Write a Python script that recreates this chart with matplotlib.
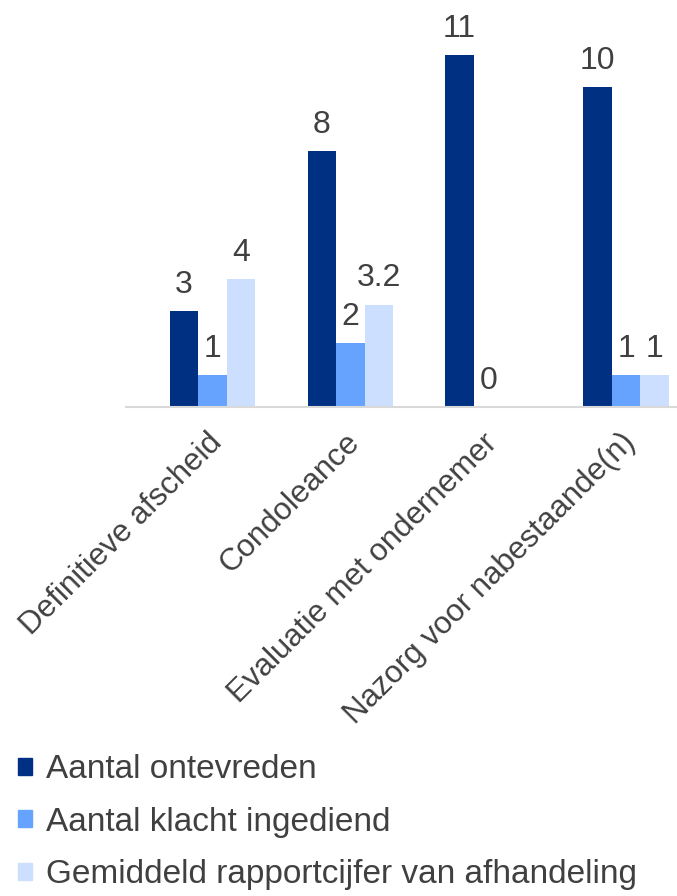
import matplotlib.pyplot as plt
import numpy as np
from matplotlib.patches import Patch
from matplotlib.transforms import ScaledTranslation

plt.rcParams['font.family'] = ['Liberation Sans', 'DejaVu Sans']

categories = ['Definitieve afscheid', 'Condoleance', 'Evaluatie met ondernemer',
              'Nazorg voor nabestaande(n)']
series_names = ['Aantal ontevreden', 'Aantal klacht ingediend',
                'Gemiddeld rapportcijfer van afhandeling']
ontevreden = [3, 8, 11, 10]
klacht = [1, 2, 0, 1]
rapportcijfer = [4, 3.2, np.nan, 1]
colors = ['#003082', '#66A3FF', '#CCDFFF']

fig = plt.figure(figsize=(6.77, 8.96), dpi=100)
# axis line runs from x=126 to 677 px
ax = fig.add_axes([126 / 677, 0.5458, 551 / 677, 0.4286])

x = np.arange(len(categories))
w = 0.207
for i, vals in enumerate([ontevreden, klacht, rapportcijfer]):
    bars = ax.bar(x + (i - 1) * w, vals, w, color=colors[i], label=series_names[i])
    labels = ['' if np.isnan(v) else '%g' % v for v in vals]
    ax.bar_label(bars, labels=labels, padding=8, fontsize=23, color='#404040')

ax.set_xlim(-0.628, 3.37)
ax.set_ylim(0, 12)
for s in ['top', 'right', 'left']:
    ax.spines[s].set_visible(False)
ax.spines['bottom'].set_color('#D9D9D9')
ax.spines['bottom'].set_linewidth(1.5)
ax.set_yticks([])
ax.set_xticks(x)
ax.set_xticklabels(categories, rotation=45, ha='right', va='top',
                   rotation_mode='anchor', fontsize=22.5, color='#404040')
ax.tick_params(axis='x', length=0, pad=15)
shift = ScaledTranslation(-6 / 100, 0, fig.dpi_scale_trans)
for lbl in ax.get_xticklabels():
    lbl.set_transform(lbl.get_transform() + shift)

handles = [Patch(color=c) for c in colors]
fig.legend(handles, series_names, loc='upper left', bbox_to_anchor=(0.026, 0.158),
           frameon=False, fontsize=24, handlelength=0.42, handleheight=0.42,
           handletextpad=0.42, labelspacing=0.64, labelcolor='#404040',
           borderaxespad=0, borderpad=0)

fig.savefig('out.png', dpi=100)
